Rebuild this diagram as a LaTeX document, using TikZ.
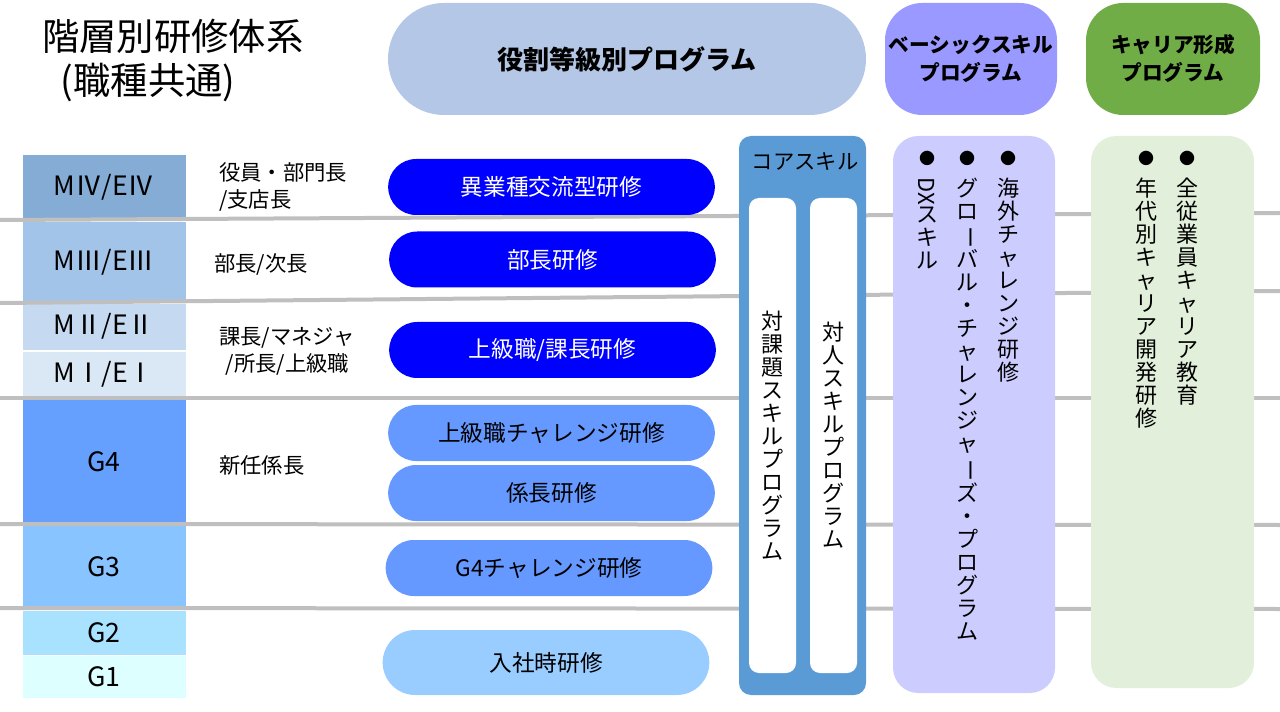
\documentclass[tikz,border=0pt]{standalone}
\usepackage{fontspec}
\setmainfont{Noto Sans CJK JP}
\usepackage{graphicx}
\usetikzlibrary{positioning,shapes.misc}

\definecolor{gradeMiv}{HTML}{84ACD4}
\definecolor{gradeMiii}{HTML}{A2C4E8}
\definecolor{gradeMii}{HTML}{C5DAF0}
\definecolor{gradeMi}{HTML}{DAE8F5}
\definecolor{gradeGiv}{HTML}{66A0FF}
\definecolor{gradeGiii}{HTML}{88C4FF}
\definecolor{gradeGii}{HTML}{A8E2FF}
\definecolor{gradeGi}{HTML}{DDFFFF}
\definecolor{pillDark}{HTML}{0000FF}
\definecolor{pillMid}{HTML}{6699FF}
\definecolor{pillLight}{HTML}{99CCFF}
\definecolor{headRole}{HTML}{B4C7E7}
\definecolor{headBasic}{HTML}{9999FF}
\definecolor{headCareer}{HTML}{70AD47}
\definecolor{coreBlue}{HTML}{5B9BD5}
\definecolor{basicLilac}{HTML}{CCCCFF}
\definecolor{careerGreen}{HTML}{E2EFDA}
\definecolor{lineGrey}{HTML}{BFBFBF}

\newcommand\vlong{\rotatebox[origin=c]{-90}{ー}}

\begin{document}
\begin{tikzpicture}[x=0.75pt,y=-0.75pt]

\tikzstyle{grade} = [rectangle, draw=white, line width=0.6pt, minimum width=123pt, inner sep=0, font=\fontsize{20}{21}\selectfont, text=black]
\tikzstyle{role} = [anchor=west, align=left, inner sep=0, font=\fontsize{16}{20}\selectfont, text=black]
\tikzstyle{course} = [rounded rectangle, minimum width=245pt, minimum height=42pt, inner sep=0, font=\fontsize{17}{18}\selectfont]
\tikzstyle{header} = [inner sep=0, align=center, text=black]
\tikzstyle{column} = [rectangle, inner sep=0]
\tikzstyle{vtext} = [anchor=north, align=center, inner sep=0, font=\fontsize{16.5}{17.25}\selectfont, text=black]
\tikzstyle{dot} = [inner sep=0, font=\fontsize{12}{12}\selectfont, text=black]
\tikzstyle{divider} = [draw=lineGrey, line width=3pt]

\useasboundingbox (0,0) rectangle (1280,712);

% title
\node[anchor=west, align=left, inner sep=0, font=\fontsize{28}{33}\selectfont] (title) at (42,60) {階層別研修体系\\\hspace{14pt}(職種共通)};

% grade column
\node[grade, fill=gradeMiv, minimum height=49.5pt] (miv) at (104,187) {MⅣ/EⅣ};
\node[grade, fill=gradeMiii, minimum height=61.5pt] (miii) at (104,262) {MⅢ/EⅢ};
\node[grade, fill=gradeMii, minimum height=35.25pt] (mii) at (104,326.5) {MⅡ/EⅡ};
\node[grade, fill=gradeMi, minimum height=35.25pt] (mi) at (104,374.5) {MⅠ/EⅠ};
\node[grade, fill=gradeGiv, minimum height=93.75pt] (giv) at (104,461.5) {G4};
\node[grade, fill=gradeGiii, minimum height=63pt] (giii) at (104,567) {G3};
\node[grade, fill=gradeGii, minimum height=33.75pt] (gii) at (104,632.5) {G2};
\node[grade, fill=gradeGi, minimum height=32.25pt] (gi) at (104,676.5) {G1};

% level lines
\foreach \ya/\yb in {220/213, 303/291, 398/398, 524/525, 608/609}
  \draw[divider] (0,\ya) -- (1280,\yb);

% roles
\node[role] (rexec) at (219,187) {役員・部門長\\/支店長};
\node[role] (rgm) at (214,264) {部長/次長};
\node[role] (rmgr) at (219,351) {課長/マネジャ\\\hspace{5pt}/所長/上級職};
\node[role] (rchief) at (219,465) {新任係長};

% headers
\node[header, rounded rectangle, fill=headRole, minimum width=358.5pt, minimum height=84pt, font=\bfseries\fontsize{19.5}{22}\selectfont] (hrole) at (627,59) {役割等級別プログラム};
\node[header, rectangle, rounded corners=28pt, fill=headBasic, minimum width=129pt, minimum height=84pt, font=\bfseries\fontsize{15.5}{21}\selectfont] (hbasic) at (971,59) {ベーシックスキル\\プログラム};
\node[header, rectangle, rounded corners=28pt, fill=headCareer, minimum width=130.5pt, minimum height=84pt, font=\bfseries\fontsize{15.5}{21}\selectfont] (hcareer) at (1173,59) {キャリア形成\\プログラム};

% courses by grade
\node[course, fill=pillDark, text=white] (cross) at (551.5,187) {異業種交流型研修};
\node[course, fill=pillDark, text=white] (gmtr) at (552.5,259.5) {部長研修};
\node[course, fill=pillDark, text=white] (mgrtr) at (552.5,350) {上級職/課長研修};
\node[course, fill=pillMid, text=black] (chal) at (551.5,433) {上級職チャレンジ研修};
\node[course, fill=pillMid, text=black] (chieftr) at (551.5,493) {係長研修};
\node[course, fill=pillMid, text=black] (gchal) at (549,568) {G4チャレンジ研修};
\node[course, fill=pillLight, text=black, minimum height=48.75pt] (entry) at (546,662.5) {入社時研修};

% core skills
\node[column, rounded corners=9pt, fill=coreBlue, minimum width=95.25pt, minimum height=419.25pt] (core) at (802.5,415.5) {};
\node[inner sep=0, font=\fontsize{16}{18}\selectfont] (coretitle) at (805,162) {コアスキル};
\node[column, rounded corners=7.5pt, fill=white, minimum width=35.25pt, minimum height=356.25pt] (task) at (772.5,435.5) {};
\node[column, rounded corners=7.5pt, fill=white, minimum width=35.25pt, minimum height=356.25pt] (people) at (833.5,435.5) {};
\node[vtext, anchor=center] (tasktxt) at (task.center) {対\\課\\題\\ス\\キ\\ル\\プ\\ロ\\グ\\ラ\\ム};
\node[vtext, anchor=center] (peopletxt) at (people.center) {対\\人\\ス\\キ\\ル\\プ\\ロ\\グ\\ラ\\ム};

% basic skills
\node[column, rounded corners=19pt, fill=basicLilac, minimum width=121.5pt, minimum height=417.75pt] (basic) at (974,414.5) {};
\node[dot] (dxdot) at (927,158) {●};
\node[dot] (gldot) at (967,158) {●};
\node[dot] (ovdot) at (1008,158) {●};
\node[vtext, below=9pt of dxdot] (dx) {\rotatebox[origin=c]{-90}{DX}\\ス\\キ\\ル};
\node[vtext, below=9pt of gldot] (global) {グ\\ロ\\\vlong\\バ\\ル\\・\\チ\\ャ\\レ\\ン\\ジ\\ャ\\\vlong\\ズ\\・\\プ\\ロ\\グ\\ラ\\ム};
\node[vtext, below=9pt of ovdot] (overseas) {海\\外\\チ\\ャ\\レ\\ン\\ジ\\研\\修};

% career
\node[column, rounded corners=19pt, fill=careerGreen, minimum width=122.25pt, minimum height=414pt] (career) at (1172.5,412) {};
\node[dot] (agedot) at (1146,158) {●};
\node[dot] (alldot) at (1187,158) {●};
\node[vtext, below=9pt of agedot] (agecareer) {年\\代\\別\\キ\\ャ\\リ\\ア\\開\\発\\研\\修};
\node[vtext, below=9pt of alldot] (allcareer) {全\\従\\業\\員\\キ\\ャ\\リ\\ア\\教\\育};

\end{tikzpicture}
\end{document}
